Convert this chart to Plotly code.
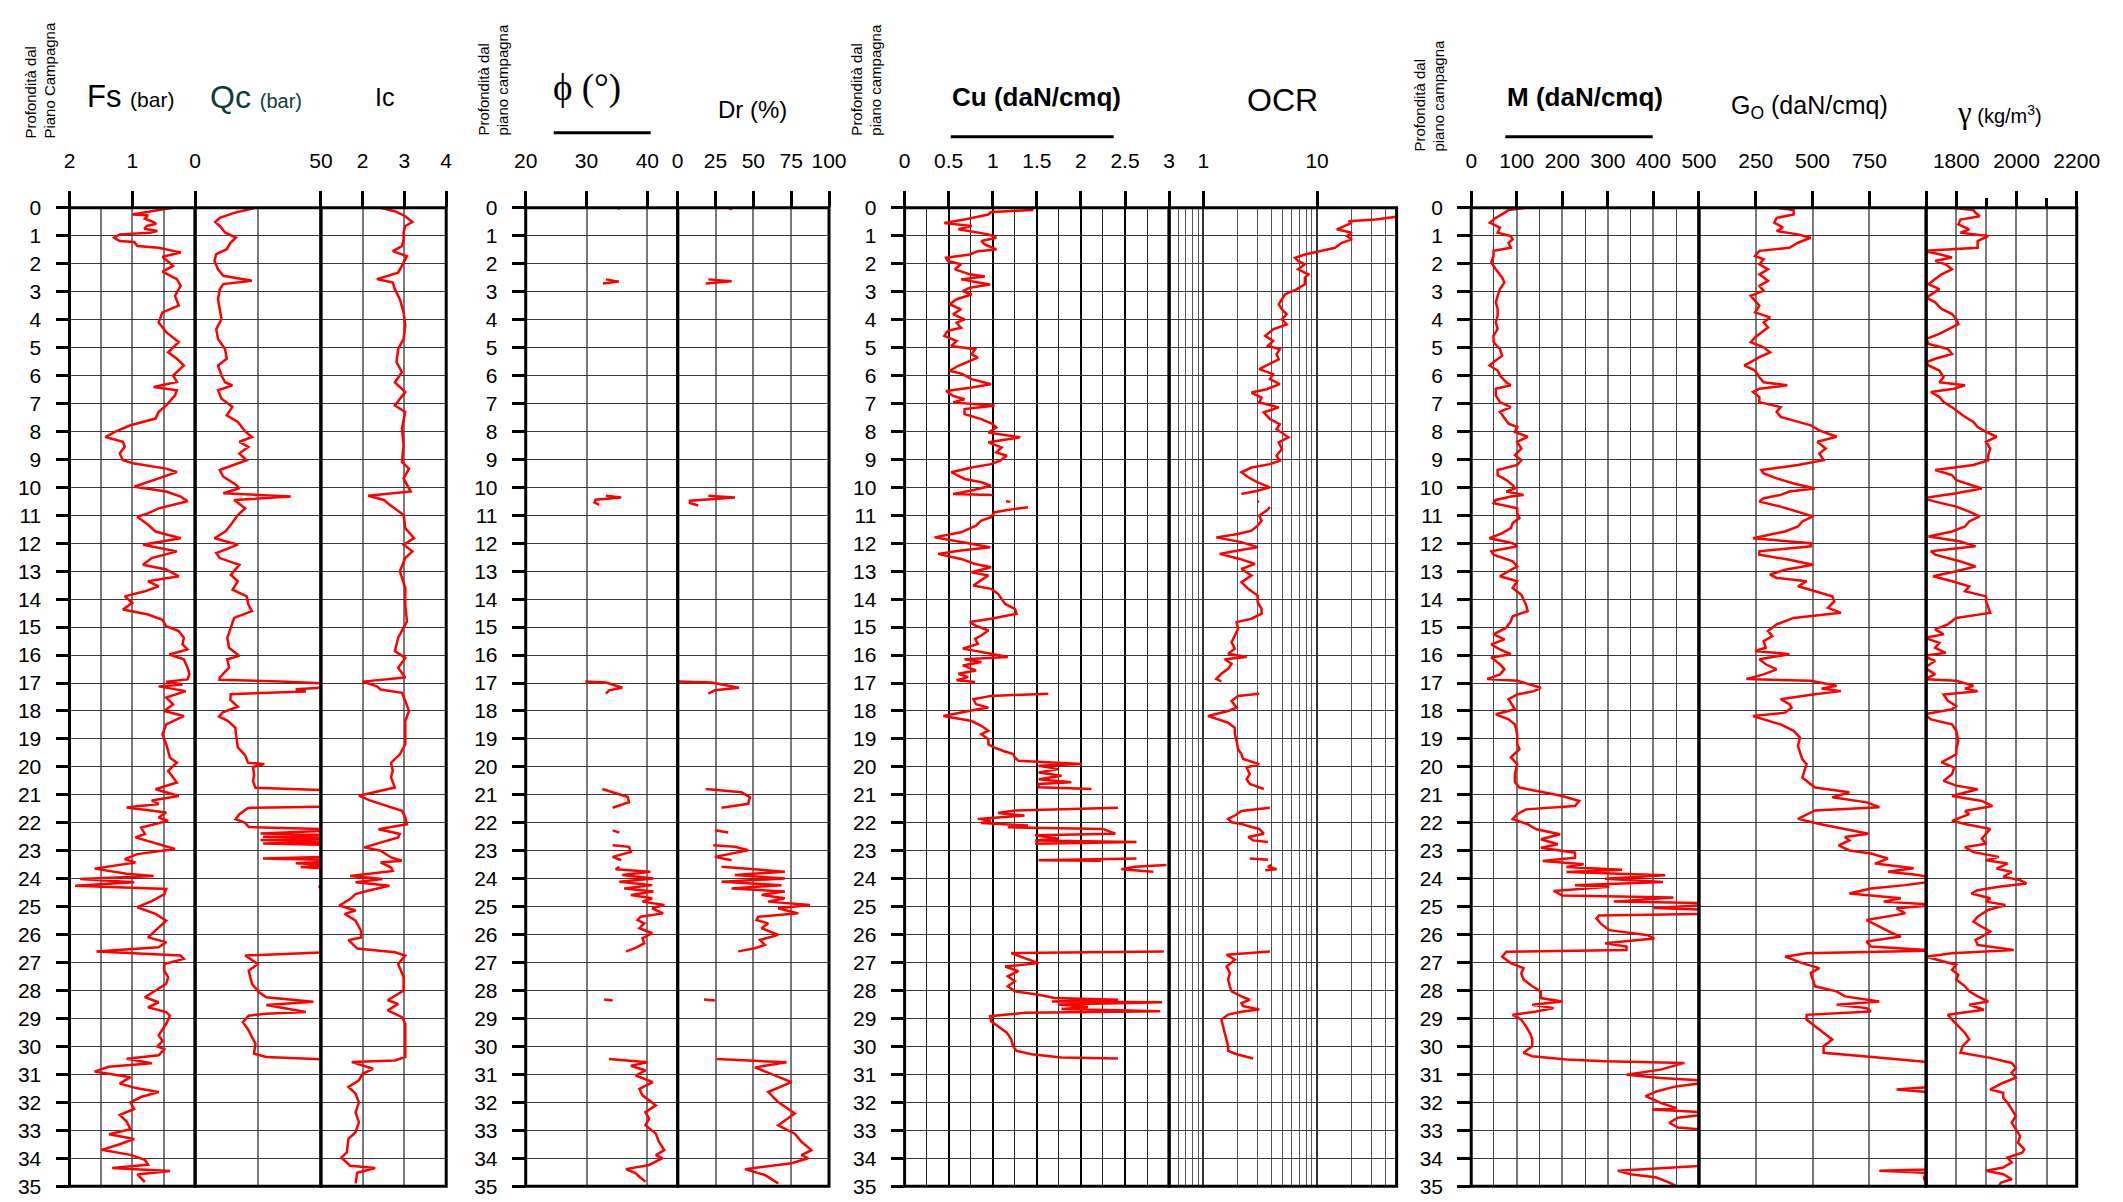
import math
import plotly.graph_objects as go

# ---------------- DATA (depth m, value) ----------------
FS = [(0,0.36),(0.24,1.00),(0.27,0.75),(0.39,0.80),(0.51,0.66),(0.57,0.62),(0.65,0.77),(0.75,0.81),(0.83,0.60),(0.89,0.72),(0.95,1.20),(1.07,1.29),(1.19,1.20),(1.22,0.97),(1.37,0.92),(1.43,0.58),(1.54,0.35),(1.6,0.23),(1.75,0.52),(2.08,0.35),(2.28,0.52),(2.55,0.29),(2.79,0.23),(3.15,0.32),(3.5,0.26),(3.74,0.52),(4.1,0.58),(4.45,0.46),(4.8,0.26),(5.17,0.43),(5.4,0.29),(5.64,0.18),(6.0,0.35),(6.23,0.29),(6.41,0.66),(6.53,0.29),(6.71,0.32),(7.07,0.46),(7.3,0.58),(7.54,0.63),(7.78,1.03),(8.0,1.26),(8.2,1.43),(8.37,1.15),(8.55,1.12),(8.79,1.20),(9.03,1.15),(9.15,0.97),(9.33,0.46),(9.45,0.29),(9.68,0.58),(9.86,0.80),(9.98,0.97),(10.15,0.46),(10.33,0.23),(10.5,0.12),(10.75,0.58),(10.93,0.75),(11.05,0.92),(11.34,0.75),(11.58,0.63),(11.82,0.23),(12.05,0.83),(12.29,0.29),(12.53,0.69),(12.77,0.83),(12.94,0.46),(13.18,0.26),(13.36,0.75),(13.54,0.58),(13.72,0.80),(13.9,1.12),(14.13,1.00),(14.37,1.15),(14.55,0.75),(14.74,0.52),(14.97,0.46),(15.14,0.26),(15.38,0.18),(15.62,0.20),(15.8,0.12),(15.98,0.41),(16.15,0.18),(16.45,0.12),(16.69,0.09),(16.87,0.12),(16.95,0.46),(17.05,0.20),(17.12,0.58),(17.29,0.15),(17.52,0.46),(17.76,0.35),(18.0,0.49),(18.18,0.18),(18.48,0.46),(18.83,0.52),(19.19,0.46),(19.67,0.40),(19.85,0.29),(20.14,0.43),(20.38,0.35),(20.56,0.29),(20.8,0.63),(21.04,0.26),(21.2,0.69),(21.33,0.58),(21.45,1.09),(21.63,0.46),(21.81,0.58),(21.93,0.43),(22.17,0.86),(22.4,0.80),(22.52,0.95),(22.76,0.58),(22.94,0.32),(23.12,0.92),(23.3,1.12),(23.42,0.95),(23.64,1.60),(23.82,1.09),(23.9,0.66),(24.01,1.83),(24.13,0.97),(24.25,1.91),(24.37,0.46),(24.55,0.49),(24.8,0.69),(25.02,0.92),(25.26,0.63),(25.5,0.46),(25.86,0.63),(26.1,0.75),(26.27,0.46),(26.45,0.58),(26.6,1.57),(26.75,0.23),(26.87,0.18),(27.05,0.49),(27.29,0.49),(27.52,0.43),(27.76,0.46),(28.0,0.63),(28.24,0.80),(28.42,0.58),(28.6,0.75),(28.77,0.46),(28.9,0.40),(29.19,0.46),(29.6,0.58),(29.81,0.52),(30.0,0.60),(30.1,0.49),(30.32,0.58),(30.44,1.09),(30.6,0.69),(30.73,1.38),(30.9,1.60),(31.1,1.03),(31.33,1.20),(31.5,0.92),(31.63,0.58),(31.81,0.86),(32.0,1.03),(32.24,0.97),(32.45,1.20),(32.69,1.09),(32.96,1.03),(33.14,1.37),(33.31,0.97),(33.5,1.20),(33.7,1.49),(33.88,1.03),(34.06,0.80),(34.23,0.75),(34.35,1.32),(34.46,0.40),(34.58,0.92),(34.85,0.80)]

QC = [(0,24),(0.18,15.5),(0.36,9.8),(0.51,8.0),(0.65,9.8),(0.89,12),(1.07,16.2),(1.25,14.1),(1.48,12.6),(1.66,8.4),(1.9,7.7),(2.2,9.1),(2.43,11.2),(2.61,22.6),(2.73,11.2),(2.91,9.8),(3.27,9.1),(3.62,9.8),(3.98,10.5),(4.34,8.4),(4.69,9.1),(5.05,11.9),(5.4,12.6),(5.64,9.1),(6.0,10.5),(6.24,11.9),(6.35,14.8),(6.53,9.1),(6.83,10.5),(7.12,14.8),(7.42,12.6),(7.66,17),(8.0,19.9),(8.2,22.6),(8.37,17.6),(8.55,21.2),(8.79,17.6),(9.03,20.5),(9.2,15.5),(9.38,9.8),(9.62,11.2),(9.86,15.5),(10.03,17.6),(10.21,11.2),(10.33,38),(10.45,15.5),(10.75,19.9),(10.99,17),(11.34,14.2),(11.58,12),(11.82,7.7),(12.05,17),(12.35,8.4),(12.53,9.8),(12.77,17.6),(13.13,14.2),(13.36,17),(13.66,14.9),(13.9,20.5),(14.2,21.2),(14.43,22.6),(14.67,15.5),(15.02,14.2),(15.38,12.8),(15.74,13.5),(16.03,17.6),(16.15,12.8),(16.45,13.5),(16.8,9.8),(16.88,9.7),(16.95,34),(17.05,62),(17.15,55),(17.22,40),(17.3,44),(17.4,14.2),(17.6,14),(17.85,17),(18.05,11),(18.2,9.5),(18.35,13),(18.6,16),(19.0,16.5),(19.3,17),(19.6,20),(19.85,21),(19.9,27.5),(20.0,23),(20.3,23.5),(20.5,23),(20.75,24),(20.86,62),(21.1,70),(21.4,65),(21.47,21),(21.7,17.5),(21.87,16.1),(22.0,19.9),(22.15,21.3),(22.25,62),(22.38,26),(22.44,56),(22.5,27),(22.56,55),(22.62,26),(22.68,57),(22.74,27),(22.8,60),(23.05,70),(23.2,60),(23.28,27),(23.34,62),(23.45,40),(23.52,56),(23.58,42),(23.66,56),(23.75,50),(23.85,70),(24.27,60),(24.29,49),(24.31,60),(25.0,95),(26.0,85),(26.6,60),(26.75,19.9),(27.05,24.9),(27.29,21.3),(27.76,22.6),(28.06,25.4),(28.24,28.3),(28.4,47),(28.52,28.3),(28.77,44),(28.83,28.3),(28.9,21.3),(29.13,19),(29.43,21.3),(29.67,22.6),(29.9,24),(30.26,23.4),(30.38,28.3),(30.5,62),(31.5,90),(33,100),(35,110)]

IC = [(0,2.42),(0.12,2.77),(0.3,3.02),(0.51,3.19),(0.65,3.02),(0.89,2.98),(1.13,2.98),(1.37,2.94),(1.55,2.72),(1.73,3.06),(1.96,2.98),(2.32,2.85),(2.55,2.34),(2.67,2.72),(2.91,2.77),(3.27,2.89),(3.74,2.98),(4.22,3.02),(4.69,2.98),(5.05,2.85),(5.52,2.81),(5.88,2.94),(6.24,2.77),(6.59,3.02),(7.07,2.77),(7.3,3.02),(7.9,2.94),(8.49,2.98),(9.09,2.94),(9.33,3.11),(9.68,2.98),(10.15,3.15),(10.3,2.13),(10.45,2.51),(10.57,2.6),(10.75,2.77),(10.99,2.98),(11.46,3.02),(11.82,3.23),(12.05,2.98),(12.29,3.19),(12.53,3.02),(13.0,2.89),(13.6,3.02),(14.2,3.02),(14.8,3.06),(15.38,2.85),(15.86,2.77),(16.1,3.02),(16.45,2.85),(16.8,3.02),(16.95,2.0),(17.12,2.34),(17.23,2.43),(17.35,2.94),(17.64,3.02),(18.0,3.11),(18.36,3.02),(18.83,3.02),(19.19,3.02),(19.55,2.89),(19.85,2.68),(20.14,2.72),(20.38,2.68),(20.74,2.77),(20.86,2.43),(21.03,1.91),(21.2,2.17),(21.45,2.68),(21.57,2.94),(21.81,3.02),(22.05,3.06),(22.23,2.38),(22.4,2.89),(22.52,2.85),(22.76,2.34),(22.88,2.04),(23.0,2.43),(23.24,2.68),(23.36,2.94),(23.42,2.43),(23.6,2.68),(23.72,2.72),(23.9,1.7),(24.01,2.47),(24.13,1.83),(24.25,2.64),(24.43,2.12),(24.55,1.83),(24.73,1.7),(24.96,1.44),(25.14,1.83),(25.26,1.57),(25.5,1.83),(25.86,1.96),(26.1,1.96),(26.2,1.66),(26.5,1.87),(26.63,2.77),(26.75,3.02),(27.05,2.85),(27.52,2.98),(28.0,2.98),(28.35,2.6),(28.48,2.85),(28.71,2.6),(28.95,2.94),(29.19,3.02),(29.67,3.02),(30.14,3.02),(30.38,3.02),(30.5,2.77),(30.56,1.74),(30.8,2.25),(30.98,2.0),(31.21,1.91),(31.45,1.66),(31.69,1.83),(32.0,1.91),(32.36,1.83),(32.71,1.91),(33.07,1.83),(33.31,1.66),(33.79,1.62),(33.98,1.49),(34.27,1.7),(34.35,2.3),(34.52,1.87),(34.9,1.83)]

PHI = [(0.0,35.0),(0.04,35.5),(None,None),
 (2.56,33.2),(2.64,35.3),(2.71,32.7),(None,None),
 (10.3,33.2),(10.36,35.7),(10.44,31.5),(10.54,31.3),(10.63,32.1),(None,None),
 (16.95,29.8),(16.98,33.2),(17.17,35.9),(17.26,33.7),(17.38,33.2),(None,None),
 (20.79,32.6),(21.08,36.8),(21.26,37.0),(21.46,34.3),(None,None),
 (22.27,34.3),(22.35,35.4),(None,None),
 (22.8,34.3),(22.86,37.0),(23.04,37.3),(23.22,34.3),(23.34,35.7),(None,None),
 (23.57,35.4),(23.66,34.8),(23.75,40.5),(23.87,35.9),(23.99,41.0),(24.11,35.4),(24.23,40.8),(24.35,36.2),(24.46,41.0),(24.58,37.3),(24.7,40.8),(24.82,39.2),(24.94,42.8),(25.06,40.8),(25.24,42.6),(25.36,38.9),(25.48,38.4),(25.6,39.5),(25.77,38.7),(25.95,40.8),(26.13,39.2),(26.31,39.5),(26.49,37.9),(26.6,36.5),(None,None),
 (28.32,32.9),(28.36,34.3),(None,None),
 (30.45,33.7),(30.57,40.0),(30.69,37.3),(30.86,39.7),(31.04,38.1),(31.28,40.9),(31.52,38.7),(31.75,39.2),(32.11,41.4),(32.35,39.7),(32.59,40.3),(32.82,39.7),(33.12,41.4),(33.41,41.9),(33.71,42.8),(33.89,41.4),(34.0,42.5),(34.24,40.3),(34.39,36.5),(34.54,38.1),(34.66,38.7),(34.84,39.7)]

DR = [(0.0,33),(0.04,36),(None,None),
 (2.56,20.2),(2.63,35.6),(2.71,18.5),(None,None),
 (10.3,20.2),(10.36,37.8),(10.48,8.1),(10.56,8.1),(10.65,13.6),(None,None),
 (16.95,0.4),(16.98,22.4),(17.17,40.4),(17.26,24.6),(17.38,20.2),(None,None),
 (20.79,18.5),(20.91,42.2),(21.08,47.7),(21.32,46.6),(21.46,29.0),(None,None),
 (22.27,24.6),(22.35,33.4),(None,None),
 (22.8,23.5),(22.86,37.8),(22.98,46.6),(23.22,24.6),(23.34,35.6),(None,None),
 (23.57,29.0),(23.75,70.8),(23.87,37.8),(23.99,70.8),(24.11,29.0),(24.23,68.6),(24.35,35.6),(24.46,70.8),(24.58,55.4),(24.7,70.8),(24.82,59.8),(24.94,87.3),(25.06,66.4),(25.24,79.6),(25.36,53.2),(25.48,52.1),(25.6,59.8),(25.77,55.4),(26.01,66.4),(26.19,54.3),(26.37,57.6),(26.49,51.0),(26.6,40.0),(None,None),
 (28.32,17.4),(28.36,24.6),(None,None),
 (30.45,25.7),(30.57,71.9),(30.75,51.0),(31.28,75.2),(31.63,59.8),(31.99,66.4),(32.4,77.4),(32.82,66.4),(33.12,77.4),(33.41,81.8),(33.71,88.4),(33.89,81.8),(34.0,86.2),(34.18,75.2),(34.39,44.4),(34.6,57.6),(34.9,66.4)]

CU = [(0.08,1.46),(0.15,0.98),(0.24,0.95),(0.42,0.68),(0.54,0.45),(0.65,0.76),(0.77,0.61),(0.87,0.78),(0.95,0.95),(1.07,1.04),(1.19,0.87),(1.31,0.91),(1.49,1.04),(1.55,0.83),(1.67,0.74),(1.79,0.47),(1.9,0.49),(2.02,0.64),(2.2,0.57),(2.38,0.74),(2.46,0.91),(2.56,0.64),(2.74,0.97),(2.86,0.74),(2.98,0.66),(3.1,0.76),(3.27,0.59),(3.45,0.51),(3.63,0.64),(3.81,0.55),(3.99,0.68),(4.11,0.59),(4.29,0.64),(4.4,0.49),(4.58,0.45),(4.76,0.59),(4.94,0.53),(5.06,0.8),(5.24,0.76),(5.36,0.83),(5.48,0.74),(5.65,0.61),(5.83,0.51),(5.95,0.66),(6.13,0.76),(6.31,0.98),(6.43,0.76),(6.55,0.47),(6.73,0.55),(6.85,0.68),(6.96,0.55),(7.08,1.02),(7.2,0.68),(7.38,0.68),(7.56,0.87),(7.74,1.0),(7.86,1.04),(8.04,0.95),(8.21,1.31),(8.39,0.95),(8.57,1.1),(8.75,1.04),(8.87,1.16),(9.05,1.08),(9.17,0.98),(9.29,0.76),(9.46,0.53),(9.58,0.61),(9.7,0.68),(9.82,0.87),(9.94,0.98),(10.11,0.76),(10.24,0.55),(10.27,1.0),(None,None),(10.5,1.15),(10.52,1.2),(None,None),
 (10.71,1.4),(10.77,1.25),(10.89,1.02),(11.07,0.98),(11.19,0.87),(11.37,0.81),(11.61,0.64),(11.79,0.34),(11.96,0.66),(12.14,0.97),(12.26,0.64),(12.38,0.38),(12.56,0.64),(12.74,0.8),(12.86,0.98),(13.04,0.76),(13.15,0.95),(13.33,0.87),(13.51,0.78),(13.63,0.98),(13.81,1.06),(13.99,1.1),(14.17,1.14),(14.35,1.25),(14.52,1.27),(14.7,0.98),(14.82,0.74),(14.94,0.8),(15.12,0.95),(15.3,0.87),(15.42,0.8),(15.6,0.83),(15.77,0.66),(15.95,0.98),(16.07,1.17),(16.15,0.68),(16.25,0.87),(16.37,0.66),(16.55,0.81),(16.67,0.61),(16.79,0.72),(16.9,0.59),(16.96,0.8),(None,None),
 (17.38,1.63),(17.46,0.98),(17.58,0.78),(17.76,0.81),(17.88,0.95),(17.94,0.83),(18.18,0.44),(18.3,0.64),(18.36,0.76),(18.53,0.87),(18.71,0.95),(18.83,0.87),(19.01,0.95),(19.19,0.95),(19.31,1.02),(19.43,1.12),(19.54,1.23),(19.66,1.25),(19.78,1.29),(19.9,2.01),(19.96,1.52),(20.08,1.74),(20.2,1.52),(20.32,1.78),(20.44,1.52),(20.55,1.89),(20.61,1.52),(20.73,1.52),(20.79,2.12),(None,None),
 (21.46,2.42),(21.56,1.25),(21.65,1.06),(21.74,1.36),(21.86,0.83),(21.92,0.98),(22.01,0.87),(22.1,1.4),(22.16,1.17),(22.22,2.25),(22.39,2.39),(22.45,1.48),(22.57,1.74),(22.63,1.48),(22.69,2.63),(22.75,1.48),(None,None),
 (23.28,2.63),(23.34,1.52),(23.36,2.23),(None,None),
 (23.51,2.97),(23.57,2.61),(23.66,2.46),(23.75,2.82),(None,None),
 (26.6,2.94),(26.66,1.21),(26.84,1.36),(27.02,1.52),(27.14,1.14),(27.31,1.29),(27.49,1.17),(27.67,1.25),(27.85,1.17),(28.03,1.25),(28.15,1.52),(28.27,1.7),(28.33,2.42),(28.39,1.67),(28.42,2.92),(28.5,1.74),(28.59,2.08),(28.66,1.78),(28.74,2.9),(28.8,1.36),(28.92,0.97),(29.1,0.98),(29.28,1.06),(29.51,1.16),(29.75,1.21),(29.99,1.23),(30.16,1.27),(30.28,1.44),(30.4,1.78),(30.43,2.42)]

OCR = [(0.08,80),(0.32,50),(0.42,32.5),(0.48,18.9),(0.54,20.2),(0.65,17.7),(0.77,14.9),(0.89,20.2),(1.01,18.3),(1.13,20.2),(1.25,16.5),(1.43,14.4),(1.55,10.3),(1.67,7.8),(1.79,6.4),(1.9,6.8),(2.02,7.8),(2.2,6.8),(2.38,8.4),(2.5,7.8),(2.74,7.8),(2.92,6.6),(3.1,5.2),(3.27,4.9),(3.45,4.6),(3.63,4.9),(3.81,5.4),(3.99,4.9),(4.17,5.4),(4.35,4.1),(4.58,3.5),(4.76,4.1),(4.94,3.7),(5.06,4.7),(5.24,4.4),(5.42,4.6),(5.6,3.7),(5.77,3.1),(5.95,4.1),(6.13,3.85),(6.31,4.7),(6.49,3.6),(6.61,2.65),(6.79,3.25),(6.96,3.1),(7.14,4.6),(7.32,3.4),(7.56,3.85),(7.74,4.7),(7.92,4.4),(8.21,5.6),(8.39,4.6),(8.63,4.9),(8.87,4.4),(9.05,4.7),(9.17,3.85),(9.29,2.65),(9.46,2.16),(9.64,2.48),(9.82,3.0),(10.0,3.85),(10.12,3.0),(10.24,2.16),(None,None),(10.5,3.0),(10.52,3.1),(None,None),
 (10.71,3.85),(10.83,3.6),(11.01,3.1),(11.19,3.25),(11.37,3.0),(11.55,2.65),(11.67,2.02),(11.79,1.3),(11.96,2.16),(12.14,3.0),(12.26,2.02),(12.38,1.39),(12.56,2.09),(12.74,2.84),(12.92,2.16),(13.15,2.65),(13.39,2.16),(13.63,2.48),(13.87,3.0),(14.11,3.0),(14.35,3.25),(14.52,3.25),(14.7,2.65),(14.82,1.96),(15.06,2.02),(15.3,1.89),(15.54,1.77),(15.77,1.89),(15.95,1.65),(16.07,2.4),(16.15,1.54),(16.31,1.77),(16.49,1.65),(16.67,1.44),(16.85,1.3),(16.94,1.44),(None,None),
 (17.38,3.1),(17.46,2.02),(17.64,1.77),(17.88,1.96),(18.0,1.65),(18.18,1.1),(18.3,1.35),(18.42,1.65),(18.6,1.89),(18.83,1.89),(19.07,1.96),(19.37,2.02),(19.54,2.16),(19.72,2.24),(19.9,3.1),(20.02,2.4),(20.26,2.56),(20.44,2.4),(20.61,2.56),(20.79,3.4),(None,None),
 (21.46,3.85),(21.58,2.16),(21.74,1.89),(21.86,1.65),(21.98,1.77),(22.04,2.16),(22.13,2.56),(22.22,3.1),(22.39,3.4),(22.51,2.48),(22.63,2.74),(22.69,3.7),(None,None),
 (23.28,2.56),(23.32,3.7),(None,None),(23.51,4.0),(23.57,3.7),(23.66,4.4),(23.7,3.5),(None,None),
 (26.6,3.85),(26.72,1.6),(26.9,1.89),(27.14,1.6),(27.37,1.71),(27.61,1.65),(27.85,1.71),(28.03,1.77),(28.21,2.16),(28.33,2.56),(28.45,2.16),(28.56,2.24),(28.68,3.1),(28.74,2.3),(28.86,1.65),(29.04,1.44),(29.28,1.49),(29.51,1.54),(29.75,1.6),(29.99,1.65),(30.16,1.65),(30.28,1.96),(30.43,2.74)]

M = [(0.0,120),(0.08,82),(0.18,73),(0.36,54),(0.53,41),(0.71,63),(0.89,58),(1.01,87),(1.13,91),(1.25,82),(1.43,87),(1.54,49),(1.72,49),(1.96,44),(2.2,54),(2.38,63),(2.5,68),(2.67,73),(2.91,63),(3.15,58),(3.38,54),(3.62,58),(3.86,58),(4.1,54),(4.34,58),(4.57,49),(4.81,49),(5.05,63),(5.29,68),(5.52,49),(5.64,40),(5.82,58),(6.0,63),(6.24,77),(6.35,87),(6.47,54),(6.71,54),(6.95,63),(7.13,87),(7.3,63),(7.54,73),(7.72,82),(7.84,101),(8.02,96),(8.19,124),(8.37,101),(8.61,110),(8.85,96),(9.03,110),(9.2,101),(9.38,58),(9.56,58),(9.74,77),(9.92,91),(10.04,96),(10.15,77),(10.27,115),(10.33,87),(10.45,54),(10.57,49),(10.75,101),(10.93,101),(11.1,106),(11.28,91),(11.46,87),(11.64,68),(11.82,40),(12.0,91),(12.11,101),(12.29,44),(12.41,49),(12.65,91),(12.83,101),(13.0,82),(13.18,63),(13.36,101),(13.6,91),(13.84,110),(14.01,115),(14.19,120),(14.43,124),(14.61,91),(14.79,87),(15.02,77),(15.26,49),(15.44,73),(15.62,44),(15.8,63),(15.97,87),(16.09,44),(16.33,63),(16.51,73),(16.69,63),(16.86,35),(16.92,101),(17.1,143),(17.17,153),(17.29,138),(17.41,101),(17.58,82),(17.82,91),(17.94,96),(18.12,54),(18.3,82),(18.48,96),(18.83,101),(19.19,101),(19.37,106),(19.66,87),(19.9,101),(20.26,96),(20.55,96),(20.74,106),(20.86,143),(21.04,200),(21.22,237),(21.4,228),(21.52,120),(21.69,101),(21.87,91),(22.05,124),(22.23,143),(22.41,195),(22.59,153),(22.77,190),(22.89,153),(23.07,228),(23.25,228),(23.37,157),(23.48,247),(23.58,209),(23.68,331),(23.76,209),(23.88,426),(24.0,294),(24.12,421),(24.23,228),(24.29,303),(24.44,181),(24.6,200),(24.67,444),(24.82,313),(24.88,530),(24.95,510),(25.05,400),(25.12,530),(25.25,530),(25.32,280),(25.42,275),(25.6,284),(25.84,303),(26.02,388),(26.14,402),(26.31,294),(26.43,341),(26.55,341),(26.61,77),(26.79,68),(27.02,87),(27.2,115),(27.38,110),(27.61,115),(27.85,134),(28.03,153),(28.27,153),(28.39,200),(28.51,134),(28.63,181),(28.75,143),(28.87,91),(29.04,110),(29.28,120),(29.52,129),(29.75,134),(29.99,134),(30.23,115),(30.35,134),(30.47,209),(30.53,294),(30.59,468),(30.83,416),(31.01,341),(31.13,416),(31.25,540),(31.43,449),(31.61,407),(31.78,383),(32.02,416),(32.2,449),(32.26,397),(32.38,540),(32.55,454),(32.73,435),(32.9,454),(33.02,540),(33.6,570),(34.2,550),(34.27,510),(34.45,322),(34.57,350),(34.69,407),(34.87,435),(34.99,449)]

GO = [(0.0,342),(0.08,417),(0.24,417),(0.36,342),(0.53,332),(0.71,370),(0.83,342),(0.95,436),(1.07,492),(1.25,436),(1.43,398),(1.54,266),(1.72,247),(1.84,285),(2.02,266),(2.2,304),(2.38,266),(2.61,304),(2.79,266),(2.97,285),(3.15,228),(3.33,247),(3.5,266),(3.74,247),(3.92,313),(4.1,285),(4.28,304),(4.46,275),(4.64,247),(4.81,228),(4.99,285),(5.17,313),(5.34,266),(5.52,228),(5.64,200),(5.82,247),(6.06,266),(6.24,285),(6.35,389),(6.47,266),(6.59,238),(6.77,266),(6.95,266),(7.13,360),(7.3,342),(7.48,360),(7.66,436),(7.78,492),(7.96,530),(8.19,606),(8.37,521),(8.61,558),(8.79,530),(9.03,549),(9.2,436),(9.38,275),(9.5,285),(9.68,342),(9.86,417),(10.04,511),(10.15,398),(10.27,360),(10.39,285),(10.51,266),(10.69,360),(10.87,436),(11.04,502),(11.22,455),(11.4,436),(11.58,379),(11.82,238),(12.0,492),(12.11,492),(12.29,266),(12.41,266),(12.59,398),(12.77,502),(12.95,379),(13.12,313),(13.24,342),(13.36,474),(13.54,436),(13.72,511),(13.9,587),(14.08,596),(14.31,568),(14.49,625),(14.67,417),(14.9,342),(15.14,304),(15.32,323),(15.5,285),(15.74,294),(15.85,247),(15.97,398),(16.15,266),(16.33,294),(16.51,342),(16.69,285),(16.86,209),(16.92,492),(17.1,606),(17.2,540),(17.29,625),(17.41,502),(17.58,360),(17.76,398),(17.88,408),(18.06,379),(18.18,238),(18.3,285),(18.48,360),(18.71,417),(18.95,445),(19.25,436),(19.49,445),(19.73,455),(19.9,474),(20.14,464),(20.38,455),(20.62,492),(20.74,511),(20.91,662),(21.09,587),(21.27,738),(21.44,794),(21.56,511),(21.68,483),(21.86,436),(22.04,530),(22.22,643),(22.39,747),(22.51,643),(22.63,662),(22.81,615),(22.99,662),(23.1,757),(23.28,832),(23.46,775),(23.63,945),(23.75,832),(23.87,964),(24.0,1050),(24.11,1020),(24.23,908),(24.35,757),(24.53,662),(24.7,889),(24.82,813),(24.94,1050),(25.06,870),(25.24,908),(25.48,738),(25.72,794),(25.95,851),(26.07,889),(26.25,738),(26.43,757),(26.57,1050),(26.67,474),(26.79,379),(27.02,455),(27.2,530),(27.38,492),(27.61,502),(27.85,511),(28.03,606),(28.21,643),(28.39,794),(28.51,606),(28.63,738),(28.75,757),(28.87,474),(29.04,474),(29.28,511),(29.52,549),(29.75,587),(29.99,549),(30.23,549),(30.41,813),(30.59,1050),(31.0,1060),(31.05,995),(31.1,1050),(31.44,1040),(31.54,870),(31.62,990),(31.72,1050),(31.95,1040),(32.0,995),(32.05,1050),(34.2,1060),(34.3,995),(34.4,1040),(34.45,794),(34.52,1000),(34.7,990),(34.9,1000),(35.0,1040)]

GAMMA = [(0.0,1786),(0.08,1857),(0.18,1864),(0.3,1878),(0.42,1814),(0.59,1807),(0.77,1843),(0.89,1814),(1.01,1906),(1.19,1871),(1.43,1871),(1.54,1690),(1.66,1744),(1.78,1786),(1.9,1730),(2.02,1765),(2.2,1786),(2.38,1751),(2.55,1730),(2.73,1708),(2.91,1744),(3.09,1716),(3.21,1701),(3.38,1730),(3.62,1751),(3.8,1786),(3.98,1800),(4.16,1807),(4.34,1772),(4.51,1744),(4.69,1701),(4.87,1708),(5.05,1772),(5.23,1786),(5.4,1730),(5.52,1701),(5.64,1708),(5.82,1744),(6.06,1758),(6.24,1744),(6.35,1829),(6.47,1793),(6.59,1716),(6.77,1744),(6.95,1758),(7.19,1793),(7.42,1821),(7.66,1857),(7.84,1871),(8.02,1899),(8.19,1934),(8.37,1899),(8.61,1913),(8.85,1906),(9.03,1906),(9.2,1857),(9.38,1730),(9.56,1786),(9.74,1800),(9.92,1850),(10.04,1885),(10.21,1800),(10.39,1690),(10.51,1730),(10.69,1800),(10.87,1843),(11.04,1878),(11.22,1843),(11.4,1829),(11.58,1786),(11.76,1708),(11.94,1814),(12.11,1864),(12.29,1716),(12.41,1730),(12.65,1814),(12.83,1864),(13.0,1800),(13.18,1723),(13.36,1786),(13.54,1843),(13.72,1829),(13.9,1899),(14.08,1899),(14.31,1906),(14.49,1913),(14.67,1800),(14.9,1772),(15.08,1730),(15.26,1758),(15.38,1695),(15.56,1744),(15.74,1730),(15.92,1765),(16.03,1690),(16.21,1730),(16.45,1695),(16.69,1730),(16.86,1695),(16.92,1800),(17.1,1857),(17.2,1829),(17.29,1871),(17.41,1758),(17.64,1772),(17.82,1800),(17.94,1786),(18.12,1695),(18.3,1716),(18.48,1786),(18.71,1800),(19.07,1807),(19.37,1800),(19.55,1800),(19.84,1751),(20.02,1793),(20.26,1786),(20.5,1758),(20.67,1800),(20.8,1871),(21.04,1786),(21.22,1885),(21.4,1920),(21.58,1829),(21.69,1843),(21.93,1786),(22.04,1829),(22.22,1913),(22.39,1899),(22.57,1885),(22.75,1899),(22.87,1829),(23.05,1857),(23.22,1941),(23.34,1899),(23.46,1970),(23.64,1934),(23.76,1984),(23.93,1956),(24.05,2012),(24.17,2033),(24.29,1941),(24.41,1871),(24.53,1850),(24.7,1913),(24.82,1899),(24.94,1963),(25.12,1906),(25.36,1871),(25.54,1857),(25.72,1885),(25.89,1913),(26.07,1885),(26.19,1864),(26.37,1871),(26.55,1991),(26.67,1786),(26.79,1700),(26.96,1758),(27.08,1800),(27.26,1786),(27.44,1807),(27.61,1800),(27.85,1829),(28.03,1843),(28.21,1871),(28.39,1906),(28.51,1843),(28.69,1892),(28.87,1772),(29.04,1786),(29.28,1807),(29.52,1829),(29.75,1843),(29.99,1821),(30.23,1814),(30.41,1913),(30.59,1984),(30.77,1998),(30.94,1984),(31.12,1998),(31.3,1956),(31.54,1913),(31.66,1956),(31.84,1956),(32.01,1970),(32.25,1984),(32.49,1998),(32.73,1984),(32.96,1998),(33.2,2012),(33.44,2005),(33.68,2026),(33.8,2019),(33.98,1970),(34.15,1984),(34.33,1956),(34.45,1899),(34.57,1956),(34.75,1984),(34.87,1949),(34.99,1941)]

DEPTH_TICKS = list(range(0, 36))

# ---------------- LAYOUT ----------------
W, H = 2123, 1202
# the photographed page is offset/scaled slightly relative to the figure;
# positions below are given in photo pixels and mapped back to figure pixels
SX, OX, SY, OY = 0.9835, 18.3, 0.9855, 19.8
def px(x): return ((x - OX) / SX) / W
def py(y): return 1 - ((y - OY) / SY) / H
def fs(s): return round(s / SX)

Y_TOP, Y_BOT = 208.5, 1191.5
YDOM = [py(Y_BOT), py(Y_TOP)]
FONT = "Arial, Liberation Sans, sans-serif"
SERIF = "Liberation Serif, DejaVu Serif, serif"
RED = "#FF0000"
GRID = "#7a7a7a"

panels = [
    (FS, 67.8, 193.4, 1, dict(range=[2, 0], tickvals=[2, 1, 0], ticktext=["2", "1", "0"], minor=[1.5, 0.5])),
    (QC, 193.4, 319.2, 1, dict(range=[0, 50], tickvals=[50], ticktext=["50"], minor=[25])),
    (IC, 319.2, 444.5, 1, dict(range=[1, 4], tickvals=[2, 3, 4], ticktext=["2", "3", "4"], minor=[])),
    (PHI, 524.0, 676.0, 2, dict(range=[20, 45], tickvals=[20, 30, 40], ticktext=["20", "30", "40"], minor=[])),
    (DR, 676.0, 827.3, 2, dict(range=[0, 100], tickvals=[0, 25, 50, 75, 100], ticktext=["0", "25", "50", "75", "100"], minor=[])),
    (CU, 902.9, 1167.4, 3, dict(range=[0, 3], tickvals=[0, 0.5, 1, 1.5, 2, 2.5, 3], ticktext=["0", "0.5", "1", "1.5", "2", "2.5", "3"], minor=[0.25, 0.75, 1.25, 1.75, 2.25, 2.75])),
    (OCR, 1167.4, 1394.9, 3, dict(type="log", range=[math.log10(0.5), math.log10(50)], tickvals=[1, 10], ticktext=["1", "10"], minor=[0.6, 0.7, 0.8, 0.9, 2, 3, 4, 5, 6, 7, 8, 9, 20, 30, 40])),
    (M, 1469.5, 1697.2, 4, dict(range=[0, 500], tickvals=[0, 100, 200, 300, 400, 500], ticktext=["0", "100", "200", "300", "400", "500"], minor=[50, 150, 250, 350, 450])),
    (GO, 1697.2, 1924.4, 4, dict(range=[0, 1000], tickvals=[250, 500, 750], ticktext=["250", "500", "750"], minor=[1000], minorlen=16)),
    (GAMMA, 1924.4, 2075.0, 4, dict(range=[1700, 2200], tickvals=[1800, 2000, 2200], ticktext=["1800", "2000", "2200"], minor=[1900, 2100], minorlen=9)),
]

fig = go.Figure()
layout = dict(width=W, height=H, margin=dict(l=0, r=0, t=0, b=0),
              paper_bgcolor="white", plot_bgcolor="white", showlegend=False)
shapes = []
first_x_of_group = {}

for i, (series, x0, x1, g, cfg) in enumerate(panels, start=1):
    xname = "x" if i == 1 else f"x{i}"
    yname = "y" if g == 1 else f"y{g}"
    first_x_of_group.setdefault(g, xname)
    d = [p[0] for p in series]
    v = [p[1] for p in series]
    fig.add_trace(go.Scatter(x=v, y=d, xaxis=xname, yaxis=yname, mode="lines",
                             line=dict(color=RED, width=2.5), connectgaps=False,
                             hoverinfo="skip"))
    ax = dict(domain=[px(x0), px(x1)], anchor=yname, side="top",
              range=cfg["range"], autorange=False, tickmode="array",
              tickvals=cfg["tickvals"], ticktext=cfg["ticktext"],
              ticks="outside", ticklen=16, tickwidth=3, tickcolor="black",
              ticklabelstandoff=14,
              tickfont=dict(family=FONT, size=fs(21), color="black"),
              showgrid=True, gridcolor=GRID, gridwidth=1.5,
              showline=False, zeroline=False, fixedrange=True)
    if cfg.get("type"):
        ax["type"] = cfg["type"]
    minor = dict(tickmode="array", tickvals=cfg["minor"], showgrid=True,
                 gridcolor=GRID, gridwidth=1.5)
    if cfg.get("minorlen"):
        minor.update(ticks="outside", ticklen=cfg["minorlen"], tickwidth=3, tickcolor="black")
    else:
        minor.update(ticks="")
    ax["minor"] = minor
    if series is CU:
        ax.update(gridcolor="black", gridwidth=2)
        ax["minor"].update(gridcolor="#222", gridwidth=1.2)
    if series is OCR:
        ax.update(gridcolor="#333", gridwidth=2)
        ax["minor"].update(gridcolor="#555", gridwidth=1.2)
    if series is M:
        ax["minor"].update(gridcolor="#444", gridwidth=1.3)
    layout["xaxis" if i == 1 else f"xaxis{i}"] = ax
    shapes.append(dict(type="rect", xref=f"{xname} domain", yref=f"{yname} domain",
                       x0=0, x1=1, y0=0, y1=1, line=dict(color="black", width=3),
                       fillcolor="rgba(0,0,0,0)", layer="above"))

for g in range(1, 5):
    yname = "yaxis" if g == 1 else f"yaxis{g}"
    layout[yname] = dict(domain=YDOM, anchor=first_x_of_group[g], range=[35, 0],
                         autorange=False, tickmode="array", tickvals=DEPTH_TICKS,
                         ticks="outside", ticklen=13, tickwidth=3, tickcolor="black",
                         ticklabelstandoff=10,
                         tickfont=dict(family=FONT, size=fs(21), color="black"),
                         showgrid=True, gridcolor="#3a3a3a", gridwidth=1.4,
                         showline=False, zeroline=False, fixedrange=True)

# title underlines
for (xa, xb, yy) in [(552, 649, 133), (949, 1112, 137), (1503.6, 1651, 137)]:
    shapes.append(dict(type="line", xref="paper", yref="paper", x0=px(xa), x1=px(xb),
                       y0=py(yy), y1=py(yy), line=dict(color="black", width=3)))

annotations = []
def ann(text, x, y, size, color="black", family=FONT, angle=0, align="center"):
    annotations.append(dict(text=text, x=px(x), y=py(y), xref="paper", yref="paper",
                            showarrow=False, xanchor="center", yanchor="middle",
                            textangle=angle, align=align,
                            font=dict(size=fs(size), color=color, family=family)))

ann("Profondità dal<br>Piano Campagna", 39, 80, 15, angle=-90, align="left")
ann("Profondità dal<br>piano campagna", 492, 80, 15, angle=-90, align="left")
ann("Profondità dal<br>piano campagna", 865, 80, 15, angle=-90, align="left")
ann("Profondità dal<br>piano campagna", 1428, 96, 15, angle=-90, align="left")

ann("Fs <span style='font-size:21px'>(bar)</span>", 129, 97, 30)
ann("Qc <span style='font-size:20px'>(bar)</span>", 254, 97, 31, color="#0B3C3C")
ann("Ic", 383, 97, 25)
ann("ϕ (°)", 585, 88, 36, family=SERIF)
ann("Dr (%)", 751, 110, 24)
ann("<b>Cu (daN/cmq)</b>", 1035, 97, 26)
ann("OCR", 1281, 100, 31)
ann("<b>M (daN/cmq)</b>", 1583, 97, 26)
ann("G<sub>O</sub> (daN/cmq)", 1808, 107, 25)
ann("<span style='font-family:Liberation Serif, DejaVu Serif, serif; font-size:31px'>γ</span> (kg/m<sup>3</sup>)", 1998, 113, 20)

layout["shapes"] = shapes
layout["annotations"] = annotations
fig.update_layout(**layout)
fig.write_html("out.html")
